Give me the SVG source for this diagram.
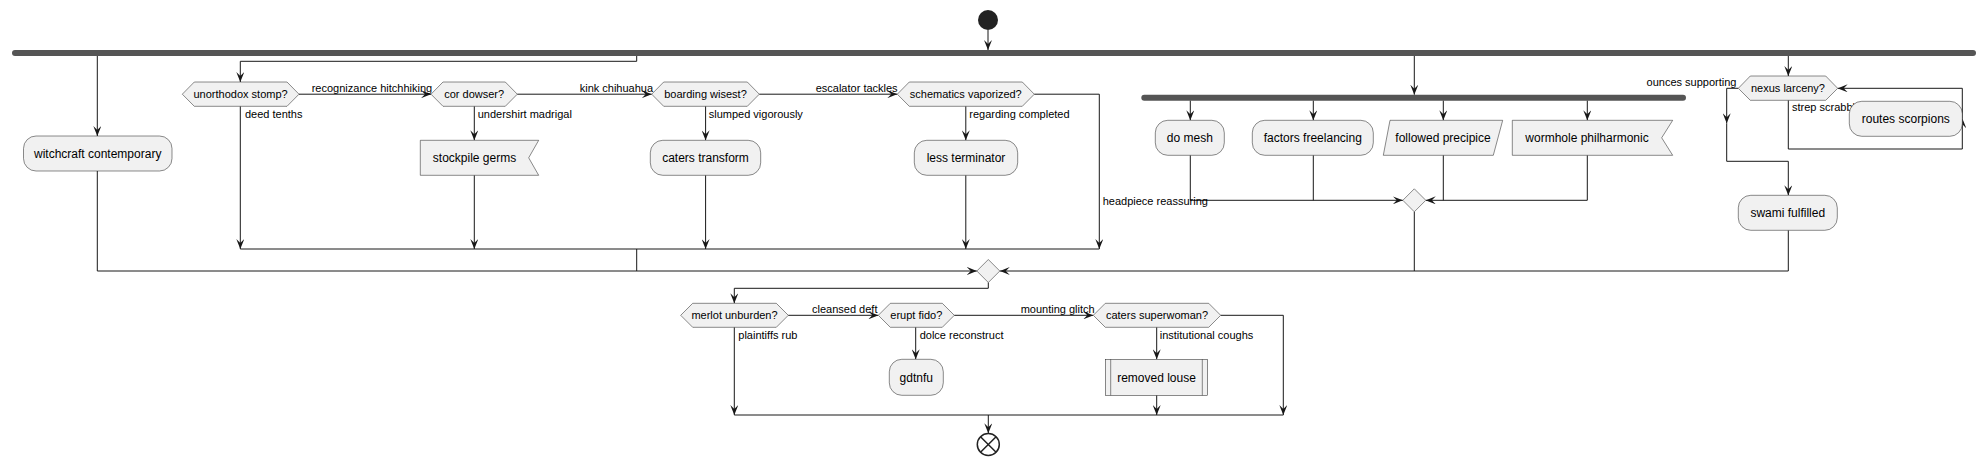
<svg xmlns="http://www.w3.org/2000/svg" width="1987" height="465" viewBox="0 0 1987 465">
<style>
.n{fill:#F1F1F1;stroke:#181818;stroke-width:0.5}
.bar{fill:#555555;stroke:none}
.c{fill:none;stroke:#181818;stroke-width:1}
.t{font-family:"Liberation Sans",Arial,sans-serif;font-size:12px;fill:#000000;text-anchor:middle}
.d{font-family:"Liberation Sans",Arial,sans-serif;font-size:11px;fill:#000000;text-anchor:middle}
.l{font-family:"Liberation Sans",Arial,sans-serif;font-size:11px;fill:#000000}
</style>
<defs>
<marker id="a" viewBox="0 0 10 8" refX="10" refY="4" markerWidth="10" markerHeight="8" markerUnits="userSpaceOnUse" orient="auto">
<path d="M0,0 L10,4 L0,8 L4,4 Z" fill="#181818"/>
</marker>
</defs>
<rect width="1987" height="465" fill="#FFFFFF"/>

<g id="start"><circle cx="988" cy="20" r="10" fill="#222222"/></g>
<g id="fork1"><rect class="bar" x="12" y="50" width="1964" height="6" rx="3"/></g>
<g id="fork2"><rect class="bar" x="1141.3" y="94.7" width="544.7" height="6" rx="3"/></g>

<g id="connectors">
<path class="c" d="M988,30 V50" marker-end="url(#a)"/>
<!-- branch 1 -->
<path class="c" d="M97.3,56 V136" marker-end="url(#a)"/>
<path class="c" d="M97.3,171 V271 H976.8" marker-end="url(#a)"/>
<!-- branch 2 -->
<path class="c" d="M636.7,56 V61.3 H240.3 V82" marker-end="url(#a)"/>
<path class="c" d="M240.3,106.3 V249" marker-end="url(#a)"/>
<path class="c" d="M299,94.2 H431" marker-end="url(#a)"/>
<path class="c" d="M474.3,106.3 V140.3" marker-end="url(#a)"/>
<path class="c" d="M474.3,175.3 V249" marker-end="url(#a)"/>
<path class="c" d="M517.3,94.2 H651.7" marker-end="url(#a)"/>
<path class="c" d="M705.6,106.3 V140.3" marker-end="url(#a)"/>
<path class="c" d="M705.6,175.3 V249" marker-end="url(#a)"/>
<path class="c" d="M759.3,94.2 H897.3" marker-end="url(#a)"/>
<path class="c" d="M965.8,106.3 V140.3" marker-end="url(#a)"/>
<path class="c" d="M965.8,175.3 V249" marker-end="url(#a)"/>
<path class="c" d="M1034.3,94.2 H1099.3 V249" marker-end="url(#a)"/>
<path class="c" d="M240.3,249 H1099.3"/>
<path class="c" d="M636.7,249 V271"/>
<!-- branch 3 -->
<path class="c" d="M1414.3,56 V94.7" marker-end="url(#a)"/>
<path class="c" d="M1190.3,100.7 V120.3" marker-end="url(#a)"/>
<path class="c" d="M1313.3,100.7 V120.3" marker-end="url(#a)"/>
<path class="c" d="M1443.3,100.7 V120.3" marker-end="url(#a)"/>
<path class="c" d="M1587.3,100.7 V120.3" marker-end="url(#a)"/>
<path class="c" d="M1190.3,155.3 V200.3 H1402.8" marker-end="url(#a)"/>
<path class="c" d="M1313.3,155.3 V200.3"/>
<path class="c" d="M1587.3,155.3 V200.3 H1425.8" marker-end="url(#a)"/>
<path class="c" d="M1443.3,155.3 V200.3"/>
<path class="c" d="M1414.3,211.8 V271"/>
<!-- branch 4 -->
<path class="c" d="M1788.3,56 V76" marker-end="url(#a)"/>
<path class="c" d="M1738.3,88.3 H1726.7 V123.3" marker-end="url(#a)"/>
<path class="c" d="M1726.7,123.3 V161.3 H1788.3 V195.3" marker-end="url(#a)"/>
<path class="c" d="M1788.3,100.3 V149 H1962.3 V118.3" marker-end="url(#a)"/>
<path class="c" d="M1962.3,118.3 V88.3 H1837.7" marker-end="url(#a)"/>
<path class="c" d="M1788.3,230.3 V271 H999.8" marker-end="url(#a)"/>
<!-- bottom -->
<path class="c" d="M988.3,282.5 V288.3 H734.3 V303.3" marker-end="url(#a)"/>
<path class="c" d="M734.3,327.3 V415" marker-end="url(#a)"/>
<path class="c" d="M788.3,315.3 H878.3" marker-end="url(#a)"/>
<path class="c" d="M915.7,327.3 V359.3" marker-end="url(#a)"/>
<path class="c" d="M954.3,315.3 H1093.3" marker-end="url(#a)"/>
<path class="c" d="M1156.7,327.3 V359.3" marker-end="url(#a)"/>
<path class="c" d="M1156.7,395.3 V415" marker-end="url(#a)"/>
<path class="c" d="M1220.7,315.3 H1283.3 V415" marker-end="url(#a)"/>
<path class="c" d="M734.3,415 H1283.3"/>
<path class="c" d="M988.3,415 V433.3" marker-end="url(#a)"/>
</g>

<g id="labels">
<text class="l" x="311.7" y="92">recognizance hitchhiking</text>
<text class="l" x="245" y="118">deed tenths</text>
<text class="l" x="477.7" y="118">undershirt madrigal</text>
<text class="l" x="579.7" y="92">kink chihuahua</text>
<text class="l" x="708.7" y="118">slumped vigorously</text>
<text class="l" x="815.7" y="92">escalator tackles</text>
<text class="l" x="969.3" y="118">regarding completed</text>
<text class="l" x="1102.7" y="205">headpiece reassuring</text>
<text class="l" x="1736.5" y="86" text-anchor="end">ounces supporting</text>
<text class="l" x="1792" y="111">strep scrabble</text>
<text class="l" x="812" y="313">cleansed deft</text>
<text class="l" x="738.3" y="339">plaintiffs rub</text>
<text class="l" x="919.7" y="339">dolce reconstruct</text>
<text class="l" x="1020.7" y="313">mounting glitch</text>
<text class="l" x="1159.7" y="339">institutional coughs</text>
</g>

<g id="witchcraft"><rect class="n" x="23.5" y="136" width="148.5" height="35" rx="12.5"/><text class="t" x="97.7" y="157.5">witchcraft contemporary</text></g>
<g id="unorthodox"><polygon class="n" points="182.3,94.2 194.3,82 287,82 299,94.2 287,106.3 194.3,106.3"/><text class="d" x="240.6" y="98.2">unorthodox stomp?</text></g>
<g id="cordowser"><polygon class="n" points="431,94.2 443,82 505.3,82 517.3,94.2 505.3,106.3 443,106.3"/><text class="d" x="474.2" y="98.2">cor dowser?</text></g>
<g id="stockpile"><polygon class="n" points="420.3,140.3 538.7,140.3 528.7,157.8 538.7,175.3 420.3,175.3"/><text class="t" x="474.5" y="162">stockpile germs</text></g>
<g id="boarding"><polygon class="n" points="651.7,94.2 663.7,82 747.3,82 759.3,94.2 747.3,106.3 663.7,106.3"/><text class="d" x="705.5" y="98.2">boarding wisest?</text></g>
<g id="caterstransform"><rect class="n" x="650.3" y="140.3" width="110.4" height="35" rx="12.5"/><text class="t" x="705.5" y="162">caters transform</text></g>
<g id="schematics"><polygon class="n" points="897.3,94.2 909.3,82 1022.3,82 1034.3,94.2 1022.3,106.3 909.3,106.3"/><text class="d" x="965.8" y="98.2">schematics vaporized?</text></g>
<g id="lessterminator"><rect class="n" x="914.3" y="140.3" width="103.4" height="35" rx="12.5"/><text class="t" x="966" y="162">less terminator</text></g>
<g id="domesh"><rect class="n" x="1155.3" y="120.3" width="69" height="35" rx="12.5"/><text class="t" x="1189.8" y="142">do mesh</text></g>
<g id="factors"><rect class="n" x="1252.3" y="120.3" width="121" height="35" rx="12.5"/><text class="t" x="1312.8" y="142">factors freelancing</text></g>
<g id="followed"><polygon class="n" points="1390,120.3 1502.7,120.3 1493.3,155.3 1383.3,155.3"/><text class="t" x="1443" y="142">followed precipice</text></g>
<g id="wormhole"><polygon class="n" points="1512.3,120.3 1672.7,120.3 1661.7,137.8 1672.7,155.3 1512.3,155.3"/><text class="t" x="1587" y="142">wormhole philharmonic</text></g>
<g id="merge2"><polygon class="n" points="1402.8,200.3 1414.3,188.8 1425.8,200.3 1414.3,211.8"/></g>
<g id="nexus"><polygon class="n" points="1738.3,88.3 1750.3,76 1825.7,76 1837.7,88.3 1825.7,100.3 1750.3,100.3"/><text class="d" x="1788" y="92.3">nexus larceny?</text></g>
<g id="routes"><rect class="n" x="1849.3" y="101.3" width="113" height="35" rx="12.5"/><text class="t" x="1905.8" y="123">routes scorpions</text></g>
<g id="swami"><rect class="n" x="1738.3" y="195.3" width="99" height="35" rx="12.5"/><text class="t" x="1787.8" y="217">swami fulfilled</text></g>
<g id="merge1"><polygon class="n" points="976.8,271 988.3,259.5 999.8,271 988.3,282.5"/></g>
<g id="merlot"><polygon class="n" points="680.7,315.3 692.7,303.3 776.3,303.3 788.3,315.3 776.3,327.3 692.7,327.3"/><text class="d" x="734.5" y="319.3">merlot unburden?</text></g>
<g id="erupt"><polygon class="n" points="878.3,315.3 890.3,303.3 942.3,303.3 954.3,315.3 942.3,327.3 890.3,327.3"/><text class="d" x="916.3" y="319.3">erupt fido?</text></g>
<g id="gdtnfu"><rect class="n" x="889.3" y="359.3" width="54" height="36" rx="12.5"/><text class="t" x="916.3" y="381.5">gdtnfu</text></g>
<g id="caterssuperwoman"><polygon class="n" points="1093.3,315.3 1105.3,303.3 1208.7,303.3 1220.7,315.3 1208.7,327.3 1105.3,327.3"/><text class="d" x="1157" y="319.3">caters superwoman?</text></g>
<g id="removedlouse"><rect class="n" x="1105.3" y="359.3" width="102.4" height="36"/><line class="n" x1="1110.7" y1="359.3" x2="1110.7" y2="395.3"/><line class="n" x1="1202.3" y1="359.3" x2="1202.3" y2="395.3"/><text class="t" x="1156.5" y="381.5">removed louse</text></g>
<g id="end"><circle cx="988.3" cy="444.5" r="11" fill="none" stroke="#222222" stroke-width="1.5"/><path d="M980.5,436.7 L996.1,452.3 M996.1,436.7 L980.5,452.3" stroke="#222222" stroke-width="1.5"/></g>
</svg>
